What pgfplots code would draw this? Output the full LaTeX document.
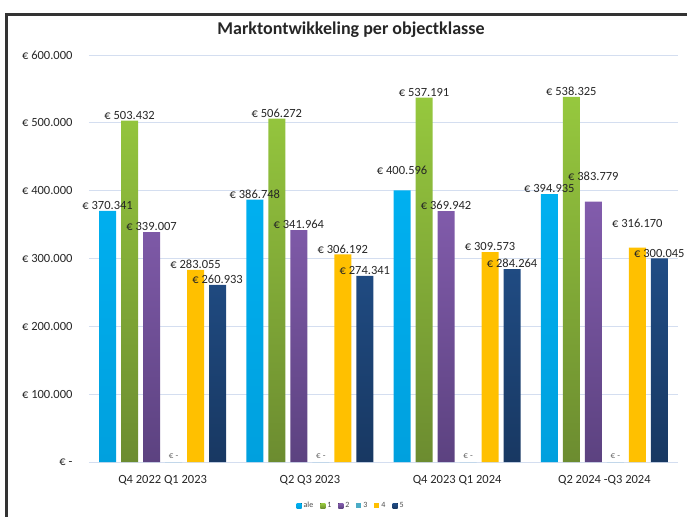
\documentclass[border=0pt]{standalone}
\usepackage{fontspec}
\setmainfont{Carlito}
\usepackage{pgfplots}
\pgfplotsset{compat=1.18}

\definecolor{cAle}{RGB}{0,176,240}
\definecolor{cAleD}{RGB}{0,160,222}
\definecolor{cOne}{RGB}{150,200,62}
\definecolor{cOneD}{RGB}{108,140,48}
\definecolor{cTwo}{RGB}{130,92,172}
\definecolor{cTwoD}{RGB}{92,66,128}
\definecolor{cThree}{RGB}{75,172,198}
\definecolor{cFour}{RGB}{255,192,0}
\definecolor{cFive}{RGB}{32,76,132}
\definecolor{cFiveD}{RGB}{24,56,98}
\definecolor{gridc}{RGB}{212,222,240}

\newcommand{\lblfont}{\fontsize{12.5}{14}\selectfont}

\begin{document}
\begin{tikzpicture}[x=1pt,y=1pt]
\useasboundingbox (-89,-54) rectangle (598,462);

\begin{axis}[
    at={(0,0)}, anchor=south west,
    scale only axis,
    width=589pt, height=407pt,
    ybar=5pt,
    bar width=17pt,
    xmin=-0.5, xmax=3.5,
    ymin=0, ymax=600000,
    scaled y ticks=false,
    /pgf/number format/assume math mode=true,
    xtick={0,1,2,3},
    xticklabels={Q4 2022 Q1 2023, Q2 Q3 2023, Q4 2023 Q1 2024, Q2 2024 -Q3 2024},
    ytick={0,100000,200000,300000,400000,500000,600000},
    yticklabels={€ -, € 100.000, € 200.000, € 300.000, € 400.000, € 500.000, € 600.000},
    ymajorgrids=true,
    grid style={draw=gridc, line width=0.9pt},
    axis line style={draw=none},
    tick style={draw=none},
    ticklabel style={font=\lblfont, text=black!85},
    yticklabel style={xshift=-13pt},
    xticklabel style={yshift=-6pt},
    nodes near coords={€ \pgfmathprintnumber[fixed, precision=0, 1000 sep={.}, assume math mode=true]{\pgfplotspointmeta}},
    every node near coord/.append style={font=\lblfont, text=black!85, inner sep=1pt},
    visualization depends on={x \as \rawx},
    legend columns=-1,
    legend style={at={(0.445,-0.108)}, anchor=center, draw=none,
        font=\fontsize{8}{9}\selectfont, text=black!70,
        /tikz/every even column/.append style={column sep=5pt}},
    legend image code/.code={\fill[#1] (0pt,-2.5pt) rectangle (5pt,2.5pt);},
    ]

% ale
\addplot[draw=none, top color=cAle, bottom color=cAleD,
    every node near coord/.append style={yshift={ifthenelse(abs(\rawx-2)<0.1,14,0)*1pt}}] coordinates {
  (0,370341) (1,386748) (2,400596) (3,394935)
};
% 1
\addplot[draw=none, top color=cOne, bottom color=cOneD] coordinates {
  (0,503432) (1,506272) (2,537191) (3,538325)
};
% 2
\addplot[draw=none, top color=cTwo, bottom color=cTwoD,
    every node near coord/.append style={yshift={ifthenelse(\rawx>2.5,20,0)*1pt}}] coordinates {
  (0,339007) (1,341964) (2,369942) (3,383779)
};
% 3
\addplot[draw=none, fill=cThree, nodes near coords={€ -},
    every node near coord/.append style={font=\fontsize{9}{10}\selectfont, text=black!60, yshift=2pt}] coordinates {
  (0,0) (1,0) (2,0) (3,0)
};
% 4
\addplot[draw=none, fill=cFour,
    every node near coord/.append style={yshift={ifthenelse(\rawx>2.5,19,0)*1pt}}] coordinates {
  (0,283055) (1,306192) (2,309573) (3,316170)
};
% 5
\addplot[draw=none, top color=cFive, bottom color=cFiveD] coordinates {
  (0,260933) (1,274341) (2,284264) (3,300045)
};

\legend{ale, 1, 2, 3, 4, 5}
\end{axis}

\node[font=\fontsize{18}{20}\selectfont\bfseries, text=black!85] at (262,432) {Marktontwikkeling per objectklasse};
\draw[line width=3pt, black!80] (-82.5,-60) -- (-82.5,447.5) -- (610,447.5);
\end{tikzpicture}
\end{document}
